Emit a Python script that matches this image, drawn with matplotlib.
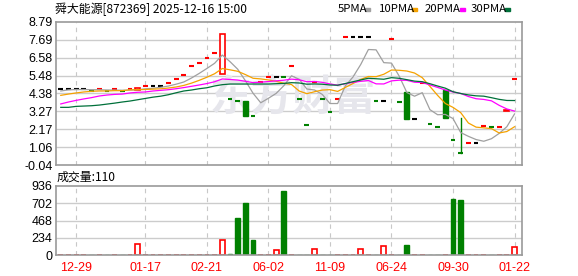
import numpy as np
import pandas as pd
import matplotlib
matplotlib.use('Agg')
from matplotlib import pyplot as plt
from matplotlib.patches import Rectangle

plt.rcParams['font.family'] = ['Liberation Sans', 'Noto Sans CJK SC', 'DejaVu Sans']

# daily candles, 60 sessions
close = [4.63, 4.63, 4.63, 4.63, 4.53, 4.63, 4.53, 4.63, 4.53, 4.63,
         4.70, 4.82, 4.82, 4.82, 5.02, 5.27, 5.50, 6.05, 6.24, 6.55,
         6.86, 8.05, 4.02, 3.91, 3.00, 2.98, 5.10, 5.41, 5.41, 5.37,
         6.05, 4.02, 2.41, 5.10, 4.02, 3.23, 4.02, 7.86, 7.86, 7.86,
         7.86, 3.91, 3.91, 7.72, 3.85, 2.78, 2.78, 5.00, 2.47, 2.29,
         2.88, 1.50, 0.68, 1.30, 1.30, 2.35, 2.29, 2.31, 3.37, 5.25]
open_ = [4.63, 4.63, 4.63, 4.63, 4.53, 4.63, 4.53, 4.63, 4.53, 4.63,
         4.57, 4.82, 4.82, 4.82, 5.02, 5.27, 5.50, 6.05, 6.24, 6.55,
         6.86, 5.58, 4.02, 3.91, 3.91, 2.98, 5.10, 5.41, 5.41, 5.37,
         6.05, 4.02, 2.41, 5.10, 4.02, 3.23, 4.02, 7.86, 7.86, 7.86,
         7.86, 3.91, 3.91, 7.72, 3.85, 4.47, 2.78, 5.00, 2.47, 2.29,
         4.59, 1.50, 0.68, 1.30, 1.30, 2.35, 2.29, 2.31, 3.31, 5.25]
high = [4.63, 4.63, 4.63, 4.63, 4.53, 4.63, 4.53, 4.63, 4.53, 4.63,
        4.70, 4.82, 4.82, 4.82, 5.02, 5.27, 5.50, 6.05, 6.24, 6.55,
        6.86, 8.05, 4.02, 3.91, 3.91, 2.98, 5.10, 5.41, 5.41, 5.37,
        6.05, 4.02, 2.41, 5.10, 4.02, 3.23, 4.02, 7.86, 7.86, 7.86,
        7.86, 3.91, 3.91, 7.72, 3.85, 4.47, 2.78, 5.00, 2.47, 2.29,
        4.59, 1.50, 2.84, 1.30, 1.30, 2.35, 2.29, 2.31, 3.37, 5.25]
low = [4.63, 4.63, 4.63, 4.63, 4.53, 4.63, 4.53, 4.63, 4.53, 4.63,
       4.57, 4.82, 4.82, 4.82, 5.02, 5.27, 5.50, 6.05, 6.24, 6.55,
       6.86, 5.58, 4.02, 3.91, 3.00, 2.98, 5.10, 5.41, 5.41, 5.37,
       6.05, 4.02, 2.41, 5.10, 4.02, 3.23, 4.02, 7.86, 7.86, 7.86,
       7.86, 3.91, 3.91, 7.72, 3.85, 2.78, 2.78, 5.00, 2.47, 2.29,
       2.88, 1.50, 0.68, 1.30, 1.30, 2.35, 2.29, 2.31, 3.31, 5.25]
volume = [3, 3, 3, 3, 3, 3, 3, 3, 3, 3,
          145, 3, 3, 3, 3, 3, 3, 3, 3, 3,
          3, 200, 8, 506, 706, 204, 5, 5, 68, 869,
          5, 5, 5, 77, 5, 5, 5, 5, 5, 77,
          5, 5, 122, 5, 5, 140, 5, 5, 5, 5,
          5, 760, 746, 5, 5, 5, 5, 5, 5, 110]

# moving average values before a full window exists
ma5_head = [4.53, 4.60, 4.62, 4.62]
ma10_head = [4.26, 4.34, 4.41, 4.47, 4.51, 4.53, 4.53, 4.55, 4.55]
ma20_head = [3.73, 3.85, 3.95, 4.04, 4.12, 4.22, 4.28, 4.32, 4.34, 4.41,
             4.45, 4.47, 4.53, 4.57, 4.61, 4.67, 4.74, 4.82, 4.90]
ma30_head = [3.52, 3.52, 3.58, 3.60, 3.62, 3.66, 3.72, 3.78, 3.85, 3.91,
             3.99, 4.07, 4.15, 4.21, 4.30, 4.42, 4.53, 4.59, 4.67, 4.73,
             4.84, 4.92, 4.96, 4.96, 4.96, 4.96, 4.96, 4.96, 4.98]

tick_pos = [2, 11, 19, 27, 35, 43, 51, 59]
tick_labels = ['12-29', '01-17', '02-21', '06-02', '11-09', '06-24', '09-30', '01-22']
price_ticks = [8.79, 7.69, 6.58, 5.48, 4.38, 3.27, 2.17, 1.06, -0.04]
vol_ticks = [0, 234, 468, 702, 936]

RED = '#ff0000'
GREEN = '#008000'
ma_colors = ['#a0a0a0', '#f5a200', '#ff00ff', '#00703a']

s = pd.Series(close)
mas = []
for n, head in zip([5, 10, 20, 30], [ma5_head, ma10_head, ma20_head, ma30_head]):
    m = s.rolling(n).mean().values
    m[:n - 1] = head
    mas.append(m)

fig = plt.figure(figsize=(5.78, 2.76), dpi=100)
W, H = 578, 276
ax = fig.add_axes([56 / W, (H - 165) / H, 466 / W, 143 / H])
axv = fig.add_axes([56 / W, (H - 255) / H, 466 / W, 69 / H])

x = np.arange(len(close))
bw = 0.62

for a in (ax, axv):
    a.set_xlim(-0.62, 59.97)
    for t in tick_pos:
        a.axvline(t, color='#c8c8c8', lw=0.8, ls=(0, (4, 4)), zorder=0)
    for sp in a.spines.values():
        sp.set_color('#9a9a9a')
        sp.set_linewidth(1.2)
    a.tick_params(length=0, labelsize=9, pad=2.5)

# price panel
ax.set_ylim(-0.04, 8.79)
ax.set_yticks(price_ticks, ['%.2f' % v for v in price_ticks])
ax.set_xticks([])
for v in price_ticks[1:-1]:
    ax.axhline(v, color='#cccccc', lw=1.0, zorder=0)
ax.text(0.508, 0.47, '东方财富', transform=ax.transAxes, ha='center', va='center',
        fontsize=30, color='#e6e6ec', family='Noto Sans CJK SC', fontweight='bold',
        style='italic', zorder=0.5)

prev = close[0]
for i in x:
    o, c, h, l = open_[i], close[i], high[i], low[i]
    if abs(c - o) < 1e-9:
        if c > prev:
            col = RED
        elif c < prev:
            col = GREEN
        else:
            col = 'black'
        if h > c:
            ax.plot([i, i], [l, h], color=col, lw=1.0, zorder=2)
        ax.plot([i - bw / 2, i + bw / 2], [c, c], color=col, lw=1.5,
                solid_capstyle='butt', zorder=2)
    else:
        if c > o:
            ax.add_patch(Rectangle((i - bw / 2, o), bw, c - o, facecolor='white',
                                   edgecolor=RED, lw=1.2, zorder=2))
        else:
            ax.add_patch(Rectangle((i - bw / 2, c), bw, o - c, facecolor=GREEN,
                                   edgecolor=GREEN, lw=1.0, zorder=2))
    prev = c

for m, col in zip(mas, ma_colors):
    ax.plot(x, m, color=col, lw=0.9, zorder=3)

# volume panel
axv.set_ylim(0, 936)
axv.set_yticks(vol_ticks, [str(v) for v in vol_ticks])
for v in vol_ticks[1:-1]:
    axv.axhline(v, color='#cccccc', lw=1.0, zorder=0)
axv.set_xticks(tick_pos, tick_labels, color=RED)
axv.tick_params(axis='x', pad=5)

prev = close[0]
for i in x:
    c = close[i]
    if c >= prev:
        axv.add_patch(Rectangle((i - bw / 2, 0), bw, volume[i], facecolor='white',
                                edgecolor=RED, lw=1.2, zorder=2))
    else:
        axv.add_patch(Rectangle((i - bw / 2, 0), bw, volume[i], facecolor=GREEN,
                                edgecolor=GREEN, lw=1.0, zorder=2))
    prev = c

# header text
fig.text(55 / W, 1 - 9 / H, '舜大能源[872369] 2025-12-16 15:00', ha='left', va='center',
         fontsize=8.6, family=['Noto Sans CJK SC'])
fig.text(57 / W, 1 - 177 / H, '成交量:110', ha='left', va='center',
         fontsize=8.6, family=['Noto Sans CJK SC'])

legend = [('5PMA', 338, 365), ('10PMA', 379, 412), ('20PMA', 425, 460), ('30PMA', 471, 505)]
for (lab, tx, sx), col in zip(legend, ma_colors):
    fig.text(tx / W, 1 - 9 / H, lab, ha='left', va='center', fontsize=8.2,
             family=['Noto Sans CJK SC'])
    fig.add_artist(Rectangle((sx / W, 1 - 11 / H), 5 / W, 3 / H, color=col,
                             transform=fig.transFigure))

fig.savefig('out.png', dpi=100)
